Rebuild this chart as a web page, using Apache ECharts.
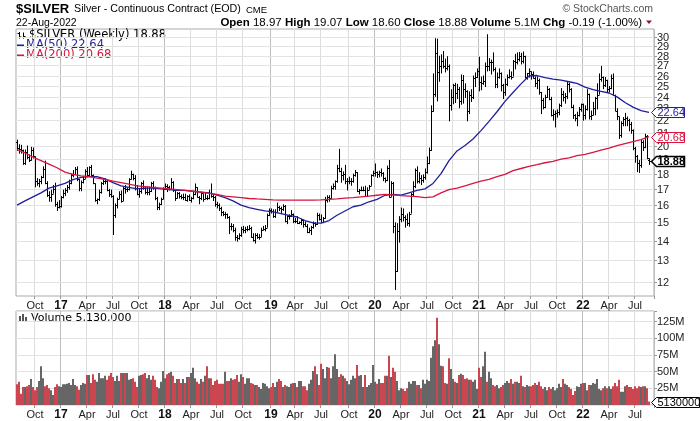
<!DOCTYPE html>
<html>
<head>
<meta charset="utf-8">
<title>$SILVER weekly</title>
<script src="https://cdn.jsdelivr.net/npm/echarts@6/dist/echarts.min.js"></script>
<style>
  html, body { margin: 0; padding: 0; background: #fff; }
  #chart { width: 700px; height: 421px; }
</style>
</head>
<body>
<div id="chart"></div>
<script>
// weekly bars, first bar = week of 1-Aug-2016, last bar = week of 22-Aug-2022
var opens = [
  // 2016
  20.30,19.80,19.75,19.65,18.70,19.50,19.15,18.95,19.70,19.20,17.50,17.40,17.50,17.75,18.30,17.40,16.60,16.50,16.70,17.00,16.05,15.90,
  // 2017
  15.95,16.50,16.75,16.95,17.15, 17.40,17.90,17.95,18.30, 17.65,17.05,17.45,17.65, 18.20,17.90,18.45,17.90, 17.35,16.30,16.35,16.80,17.35,
  17.50,17.50,16.90,16.65, 16.55,15.40,16.00,16.35,16.70, 16.25,17.05,17.00,17.00, 17.65,18.00,17.70,17.05, 16.65,16.85,17.40,17.05,16.80,
  16.80,16.85,17.35,17.15, 16.40,15.90,16.05,16.35,
  // 2018
  17.00,17.20,17.10,17.00,17.45, 16.90,16.45,16.75,16.55, 16.50,16.50,16.30,16.55, 16.30,16.40,16.65,17.15,16.50, 16.40,16.75,16.35,16.45,
  16.40,16.75,16.55,16.50, 16.05,16.00,15.80,15.60,15.45, 15.45,15.30,14.80,14.80, 14.60,14.20,14.15,14.30, 14.65,14.60,14.65,14.65,14.70,
  14.20,14.05,14.30,14.20, 14.20,14.60,14.65,14.70,15.40,
  // 2019
  15.70,15.65,15.35,15.60, 15.90,15.80,15.75,15.95, 15.10,15.35,15.35,15.45, 15.10,15.10,14.95,15.00,15.15, 14.90,14.80,14.45,14.55,
  14.75,14.95,14.90,15.40, 15.20,15.00,15.25,16.30,16.50, 16.45,17.05,17.20,17.50, 18.40,18.20,17.90,18.00,17.50, 17.50,17.50,17.50,17.90,
  18.10,16.85,16.95,16.95, 16.95,16.55,16.95,17.20,17.90,
  // 2020
  18.05,18.10,18.00,18.10, 18.05,17.70,17.55,18.40, 16.50,17.35,14.80,12.50,14.50, 15.20,15.50,15.30,15.20, 14.95,15.50,16.65,17.20,
  18.25,17.50,17.70,17.60,17.75, 18.10,18.75,19.70,22.75, 24.30,28.30,26.30,26.90,27.50, 26.90,26.75,26.90,23.25, 24.00,25.10,24.35,24.70,
  23.60,25.60,24.75,24.50,22.75, 24.20,24.00,25.75,25.85,
  // 2021
  26.40,25.40,25.30,25.45, 26.95,26.90,27.30,27.30, 26.65,25.20,25.90,26.20,25.10, 24.40,25.20,25.90,26.00, 25.90,27.45,27.30,27.65,27.95,
  27.50,28.00,25.90,26.20, 26.45,26.10,25.80,25.25, 25.55,24.40,23.75,23.10,24.00, 24.70,23.80,22.40,22.50, 22.60,22.70,23.25,24.30,
  24.00,24.10,25.20,24.70,23.10, 22.40,22.20,22.40,22.90,
  // 2022
  23.35,22.40,22.95,24.30,22.35, 22.45,23.00,23.90,24.20, 25.70,25.90,25.10,25.60, 24.70,24.80,25.80,24.20, 22.80,22.30,20.80,21.75,22.10,
  22.20,22.00,21.70,21.20, 19.80,19.20,18.70,18.60, 20.30,19.90,20.75,18.97
];
var highs = [
  20.45,20.10,20.05,19.70,19.70,20.00,19.35,19.90,19.85,19.20,17.70,17.65,17.85,18.50,18.90,17.50,16.85,16.95,17.25,17.40,16.20,16.30,
  16.55,16.95,17.05,17.25,17.60, 18.00,18.25,18.45,18.50, 17.65,17.55,17.85,18.30, 18.45,18.50,18.60,17.95, 17.35,16.40,16.95,17.45,17.65,
  17.70,17.55,17.00,16.95, 16.60,16.10,16.45,16.85,16.90, 17.15,17.25,17.10,17.70, 18.20,18.00,17.90,17.25, 17.00,17.45,17.55,17.15,17.15,
  17.15,17.45,17.50,17.15, 16.50,16.15,16.45,17.10,
  17.35,17.30,17.20,17.70,17.50, 16.95,16.80,16.80,16.65, 16.70,16.70,16.60,16.65, 16.50,16.85,17.35,17.10,16.55, 16.80,16.70,16.75,16.60,
  16.95,17.35,16.65,16.55, 16.20,16.10,15.90,15.65,15.60, 15.50,15.35,14.95,14.90, 14.70,14.30,14.40,14.75, 14.80,14.75,14.80,14.85,14.75,
  14.40,14.40,14.40,14.35, 14.70,14.80,14.85,15.50,15.80,
  15.80,15.75,15.75,16.15, 15.95,15.90,16.05,16.00, 15.40,15.45,15.70,15.50, 15.25,15.35,15.05,15.20,15.15, 15.05,14.90,14.70,14.80,
  15.05,15.00,15.55,15.50, 15.45,15.30,16.50,16.60,16.60, 17.20,17.35,17.55,18.60, 19.75,18.40,18.15,18.60,17.70, 17.80,17.70,18.00,18.25,
  18.10,17.00,17.15,17.15, 17.20,17.10,17.25,17.95,18.20,
  18.70,18.15,18.20,18.35, 18.10,17.75,18.55,18.95, 17.50,17.45,15.00,14.95,15.35, 15.85,15.80,15.40,15.50, 15.60,16.75,17.50,18.35,
  18.50,18.10,17.90,17.95,18.35, 19.20,19.85,23.25,26.20, 29.90,29.85,28.00,28.15,28.50, 27.70,27.95,27.10,24.70, 25.20,25.30,25.20,24.90,
  26.10,26.05,25.25,24.60,24.50, 24.70,26.00,26.30,26.70,
  27.90,25.90,26.00,27.30, 30.35,27.75,27.60,28.35, 26.80,26.30,26.70,26.30,25.20, 25.70,26.10,26.60,26.40, 27.55,28.20,28.35,28.40,28.30,
  28.45,28.00,26.25,26.70, 26.40,26.40,25.90,25.90, 25.70,24.45,23.90,24.20,25.00, 24.80,24.00,22.90,22.80, 22.90,23.40,24.80,24.55,
  24.35,25.45,25.30,24.80,23.30, 22.50,22.70,23.10,23.40,
  23.40,23.25,24.70,24.30,22.80, 23.55,24.00,25.25,26.20, 26.95,25.90,25.85,25.60, 25.00,26.10,26.20,24.20, 23.00,22.30,21.90,22.25,22.60,
  22.30,22.10,21.85,21.25, 19.90,19.30,18.95,20.45, 20.40,20.90,20.80,19.07
];
var lows = [
  19.60,19.40,19.40,18.60,18.60,19.00,18.80,18.90,19.05,17.10,17.20,17.10,17.30,17.70,17.30,16.50,16.20,16.20,16.70,15.90,15.65,15.80,
  15.85,16.40,16.55,16.75,16.95, 17.30,17.75,17.90,17.50, 16.85,16.85,17.35,17.65, 17.75,17.85,17.85,17.30, 16.20,16.05,16.25,16.70,17.25,
  17.30,16.85,16.50,16.45, 14.30,15.25,15.80,16.35,16.15, 16.25,16.70,16.80,16.90, 17.60,17.55,16.90,16.60, 16.45,16.70,16.95,16.65,16.60,
  16.60,16.80,16.95,16.30, 15.70,15.70,16.00,16.35,
  16.95,16.80,16.90,16.95,16.80, 16.25,16.40,16.40,16.35, 16.30,16.25,16.20,16.25, 16.15,16.35,16.60,16.45,16.05, 16.30,16.20,16.35,16.30,
  16.35,16.45,16.25,15.90, 15.80,15.65,15.35,15.35,15.20, 15.20,14.35,14.55,14.45, 14.00,13.95,14.05,14.20, 14.40,14.40,14.50,14.55,14.15,
  13.95,13.85,14.10,14.05, 14.20,14.55,14.50,14.70,15.35,
  15.50,15.25,15.25,15.55, 15.65,15.50,15.65,15.00, 14.90,15.15,15.30,14.95, 14.95,14.90,14.90,14.85,14.70, 14.75,14.40,14.40,14.30,
  14.65,14.75,14.85,15.10, 14.95,14.95,15.20,16.15,16.20, 16.40,16.95,16.95,17.40, 18.10,17.40,17.55,17.30,16.90, 17.30,17.20,17.40,17.80,
  16.80,16.65,16.85,16.85, 16.50,16.50,16.95,17.20,17.80,
  17.80,17.70,17.75,17.80, 17.50,17.40,17.50,16.45, 16.50,14.40,11.64,12.45,13.90, 15.00,15.05,14.70,14.80, 14.75,15.50,16.50,17.05,
  17.35,17.35,17.25,17.40,17.60, 18.00,18.65,19.60,22.70, 24.00,23.60,25.40,26.20,26.70, 26.30,26.50,21.90,22.80, 23.35,23.45,23.80,23.00,
  23.30,23.40,23.90,21.90,22.50, 23.55,23.80,24.90,25.75,
  24.50,24.60,25.10,24.90, 26.40,26.45,26.10,26.40, 24.80,24.80,25.70,24.50,23.80, 24.10,25.00,25.70,25.60, 25.90,26.60,27.10,27.40,27.10,
  27.20,25.70,25.60,25.80, 25.60,25.70,24.90,24.70, 24.20,22.50,22.90,23.00,23.90, 23.70,22.30,21.95,21.40, 22.20,22.40,23.10,23.60,
  23.40,23.80,24.40,23.00,22.10, 21.90,21.50,22.30,22.70,
  21.95,22.05,22.80,22.05,22.00, 22.40,22.40,22.90,24.20, 25.40,24.70,24.90,24.40, 24.40,24.70,24.10,22.75, 22.00,20.50,20.60,21.50,21.50,
  21.50,21.10,20.90,19.65, 18.75,18.10,18.05,18.40, 19.60,19.80,19.00,18.60
];
var closes = [
  19.80,19.75,19.65,18.70,19.50,19.15,18.95,19.70,19.20,17.50,17.40,17.50,17.75,18.30,17.40,16.60,16.50,16.70,17.00,16.05,15.90,15.95,
  16.50,16.75,16.95,17.15,17.40, 17.90,17.95,18.30,17.65, 17.05,17.45,17.65,18.20, 17.90,18.45,17.90,17.35, 16.30,16.35,16.80,17.35,17.50,
  17.50,16.90,16.65,16.55, 15.40,16.00,16.35,16.70,16.25, 17.05,17.00,17.00,17.65, 18.00,17.70,17.05,16.65, 16.85,17.40,17.05,16.80,16.80,
  16.85,17.35,17.15,16.40, 15.90,16.05,16.35,17.00,
  17.20,17.10,17.00,17.45,16.90, 16.45,16.75,16.55,16.50, 16.50,16.30,16.55,16.30, 16.40,16.65,17.15,16.50,16.40, 16.75,16.35,16.45,16.40,
  16.75,16.55,16.50,16.05, 16.00,15.80,15.60,15.45,15.45, 15.30,14.80,14.80,14.60, 14.20,14.15,14.30,14.65, 14.60,14.65,14.65,14.70,14.20,
  14.05,14.30,14.20,14.20, 14.60,14.65,14.70,15.40,15.70,
  15.65,15.35,15.60,15.90, 15.80,15.75,15.95,15.10, 15.35,15.35,15.45,15.10, 15.10,14.95,15.00,15.15,14.90, 14.80,14.45,14.55,14.75,
  14.95,14.90,15.40,15.20, 15.00,15.25,16.30,16.50,16.45, 17.05,17.20,17.50,18.40, 18.20,17.90,18.00,17.50,17.50, 17.50,17.50,17.90,18.10,
  16.85,16.95,16.95,16.95, 16.55,16.95,17.20,17.90,18.05,
  18.10,18.00,18.10,18.05, 17.70,17.55,18.40,16.50, 17.35,14.80,12.50,14.50,15.20, 15.50,15.30,15.20,14.95, 15.50,16.65,17.20,18.25,
  17.50,17.70,17.60,17.75,18.10, 18.75,19.70,22.75,24.30, 28.30,26.30,26.90,27.50,26.90, 26.75,26.90,23.25,24.00, 25.10,24.35,24.70,23.60,
  25.60,24.75,24.50,22.75,24.20, 24.00,25.75,25.85,26.40,
  25.40,25.30,25.45,26.95, 26.90,27.30,27.30,26.65, 25.20,25.90,26.20,25.10,24.40, 25.20,25.90,26.00,25.90, 27.45,27.30,27.65,27.95,27.50,
  28.00,25.90,26.20,26.45, 26.10,25.80,25.25,25.55, 24.40,23.75,23.10,24.00,24.70, 23.80,22.40,22.50,22.60, 22.70,23.25,24.30,24.00,
  24.10,25.20,24.70,23.10,22.40, 22.20,22.40,22.90,23.35,
  22.40,22.95,24.30,22.35,22.45, 23.00,23.90,24.20,25.70, 25.90,25.10,25.60,24.70, 24.80,25.80,24.20,22.80, 22.30,20.80,21.75,22.10,22.20,
  22.00,21.70,21.20,19.80, 19.20,18.70,18.60,20.30, 19.90,20.75,19.07,18.88
];
// weekly volume, millions of contracts
var volumes = [
  31,35,17,27,27,28,30,39,27,22, 27,36,58,40,28,30,25,22,15,27,
  31,28,27,31,31,32,33,30,39,30, 28,23,30,33,32,45,45,33,46,38,
  35,48,40,40,44,38,44,48,42,36, 44,36,48,48,48,48,38,39,40,35,
  27,44,45,46,48,40,45,38,44,38, 27,25,35,51,40,46,48,50,44,33,
  39,39,33,39,33,42,42,48,56,40, 35,32,39,35,44,58,40,40,30,36,
  38,32,32,32,50,36,36,40,38,39, 45,35,46,42,32,40,40,33,32,30,
  30,27,24,33,32,28,25,27,33,27, 35,39,36,27,30,28,27,32,33,33,
  27,36,36,28,28,22,32,38,51,58, 46,30,62,54,40,57,56,40,58,76,
  54,42,46,44,40,36,31,38,44,40, 60,44,45,27,45,27,30,33,60,35,
  32,39,33,33,44,44,74,42,56,50, 36,22,25,24,21,25,35,32,36,36,
  30,30,25,38,32,38,36,71,88,97, 131,91,59,58,33,32,70,54,39,35,
  33,45,47,45,39,40,38,38,35,38, 24,56,42,58,80,35,50,40,30,28,
  30,25,27,30,33,36,33,39,32,35, 35,33,44,28,27,30,28,28,30,33,
  30,35,28,24,27,22,27,24,27,22, 25,32,27,39,32,30,27,24,15,21,
  28,27,32,33,33,22,30,30,33,32, 39,24,22,25,28,25,28,24,28,33,
  28,38,20,20,28,30,27,27,24,28, 25,28,27,28,28,25,5.13
];
var MA_STEP = 4;
var ma50 = [
  16.0,16.25,16.5,16.75,17.05,17.2,17.35,17.6,17.75,17.8,
  17.8,17.65,17.4,17.2,17.1,17.0,17.05,17.05,17.0,16.95,
  16.9,16.9,16.85,16.8,16.75,16.6,16.45,16.25,16.0,15.85,
  15.75,15.65,15.6,15.5,15.4,15.3,15.1,14.97,14.95,15.1,
  15.4,15.65,15.9,16.0,16.2,16.35,16.6,16.65,16.6,16.75,
  16.9,17.0,17.35,18.0,18.9,19.6,20.0,20.5,21.15,21.9,
  22.7,23.6,24.4,25.2,25.95,26.0,25.8,25.65,25.55,25.4,
  25.25,24.9,24.65,24.5,24.35,24.0,23.5,23.1,22.8,22.64
];
var ma200 = [
  19.7,19.45,19.15,18.9,18.65,18.4,18.1,17.95,17.85,17.8,
  17.7,17.62,17.5,17.4,17.3,17.2,17.15,17.1,17.05,17.0,
  16.95,16.9,16.85,16.8,16.72,16.65,16.55,16.5,16.45,16.4,
  16.37,16.35,16.32,16.3,16.3,16.3,16.3,16.3,16.32,16.35,
  16.38,16.42,16.45,16.5,16.55,16.6,16.65,16.62,16.58,16.55,
  16.52,16.45,16.5,16.75,16.95,17.05,17.2,17.35,17.5,17.62,
  17.8,17.95,18.2,18.35,18.5,18.62,18.75,18.85,19.0,19.1,
  19.25,19.35,19.5,19.65,19.8,20.0,20.15,20.3,20.45,20.68
];
var priceTicks = [12,13,14,15,16,17,18,19,20,21,22,23,24,25,26,27,28,29,30];
var monthNames = ['Jan','Feb','Mar','Apr','May','Jun','Jul','Aug','Sep','Oct','Nov','Dec'];

var FONT = '"Liberation Sans", Arial, sans-serif';
var LEG_FONT = '"DejaVu Sans", Verdana, sans-serif';
var BLUE = '#1f1f9a';
var RED = '#d8153f';
var VOL_UP = '#666666';
var VOL_DOWN = '#cc4651';

// week categories (plus two empty weeks of right margin)
var FIRST_WEEK = Date.UTC(2016, 7, 1);
var WEEK_MS = 7 * 24 * 3600 * 1000;
var weeks = [];
for (var i = 0; i < closes.length + 2; i++) {
  weeks.push(new Date(FIRST_WEEK + i * WEEK_MS).toISOString().slice(0, 10));
}
function monthOf(i) { return new Date(weeks[i]).getUTCMonth(); }
function quarterStart(i) {
  if (i === 0) return false;
  var m = monthOf(i);
  return m % 3 === 0 && monthOf(i - 1) !== m;
}
function yearStart(i) { return i > 0 && monthOf(i) === 0 && monthOf(i - 1) === 11; }
function fmtWeek(value) {
  var d = new Date(value);
  if (d.getUTCMonth() === 0) return '{y|' + String(d.getUTCFullYear()).slice(2) + '}';
  return monthNames[d.getUTCMonth()];
}

var ohlcData = closes.map(function (c, i) { return [i, opens[i], highs[i], lows[i], c]; });
function maSeriesData(list) {
  var out = closes.map(function () { return null; });
  list.forEach(function (v, k) { out[k * MA_STEP] = v; });
  return out;
}
var volData = volumes.map(function (v, i) {
  var prev = i ? closes[i - 1] : opens[0];
  return { value: v, itemStyle: { color: closes[i] < prev ? VOL_DOWN : VOL_UP } };
});

function renderOhlc(params, api) {
  var i = api.value(0);
  var top = api.coord([i, api.value(2)]);
  var x = Math.round(top[0]) + 0.5;
  var yL = api.coord([i, api.value(3)])[1];
  var yO = Math.round(api.coord([i, api.value(1)])[1]) + 0.5;
  var yC = Math.round(api.coord([i, api.value(4)])[1]) + 0.5;
  return {
    type: 'group',
    children: [
      { type: 'line', shape: { x1: x, y1: top[1], x2: x, y2: yL }, style: { stroke: '#000', lineWidth: 1 } },
      { type: 'line', shape: { x1: x - 1.5, y1: yO, x2: x, y2: yO }, style: { stroke: '#000', lineWidth: 1 } },
      { type: 'line', shape: { x1: x, y1: yC, x2: x + 1.5, y2: yC }, style: { stroke: '#000', lineWidth: 1 } }
    ]
  };
}

// horizontal price grid + right-hand labels (log axis, one line per dollar)
function renderPriceGrid(params, api) {
  var cs = params.coordSys;
  var v = api.value(1);
  var y = Math.round(api.coord([0, v])[1]) + 0.5;
  var right = cs.x + cs.width;
  return {
    type: 'group',
    children: [
      { type: 'line', shape: { x1: cs.x, y1: y, x2: right, y2: y }, style: { stroke: '#e3e3e3', lineWidth: 1 } },
      { type: 'line', shape: { x1: right, y1: y, x2: right + 3, y2: y }, style: { stroke: '#999', lineWidth: 1 } },
      { type: 'text', x: right + 3, y: y, style: { text: String(v), font: '11px ' + FONT, fill: '#222',
        align: 'left', verticalAlign: 'middle', textAlign: 'left', textVerticalAlign: 'middle' } }
    ]
  };
}

// value tag at the right edge
function tagSeries(xIdx, yIdx, value, text, color, bold, width) {
  return {
    type: 'custom', xAxisIndex: xIdx, yAxisIndex: yIdx, z: 10, silent: true,
    data: [[closes.length - 1, value]],
    renderItem: function (params, api) {
      var cs = params.coordSys;
      var y = Math.round(api.coord([api.value(0), api.value(1)])[1]) + 0.5;
      var x0 = cs.x + cs.width - 2.5;
      var h = 5;
      return {
        type: 'group',
        children: [
          { type: 'polygon', shape: { points: [[x0, y], [x0 + 5, y - h], [x0 + width, y - h], [x0 + width, y + h], [x0 + 5, y + h]] },
            style: { fill: '#fff', stroke: color, lineWidth: bold ? 1.5 : 1 } },
          { type: 'text', x: x0 + 6, y: y + 0.5, style: { text: text, fill: color, font: (bold ? 'bold ' : '') + '11px ' + FONT,
            align: 'left', verticalAlign: 'middle', textAlign: 'left', textVerticalAlign: 'middle' } }
        ]
      };
    }
  };
}

function txt(x, y, text, font, fill, align) {
  return { type: 'text', x: x, y: y, silent: true,
    style: { text: text, font: font, fill: fill, align: align || 'left', verticalAlign: 'middle',
      textAlign: align || 'left', textVerticalAlign: 'middle' } };
}
function seg(x1, y1, x2, y2, color, w) {
  return { type: 'line', silent: true, shape: { x1: x1, y1: y1, x2: x2, y2: y2 }, style: { stroke: color, lineWidth: w || 1 } };
}

function weekAxis(gridIndex, withLabels) {
  return {
    type: 'category', gridIndex: gridIndex, data: weeks, boundaryGap: true,
    axisLine: { show: false },
    axisTick: { show: true, interval: function (i) { return quarterStart(i); }, length: 3, lineStyle: { color: '#999' } },
    axisLabel: {
      show: withLabels, interval: function (i) { return quarterStart(i); }, formatter: fmtWeek,
      margin: 4, fontFamily: FONT, fontSize: 11, color: '#222',
      rich: { y: { fontFamily: FONT, fontSize: 12, fontWeight: 'bold', color: '#111' } }
    },
    splitLine: { show: true, interval: function (i) { return quarterStart(i) && !yearStart(i); }, lineStyle: { color: '#dedede' } }
  };
}
function yearAxis(gridIndex) {
  return {
    type: 'category', gridIndex: gridIndex, data: weeks, boundaryGap: true, position: 'top',
    axisLine: { show: false }, axisTick: { show: false }, axisLabel: { show: false },
    splitLine: { show: true, interval: function (i) { return yearStart(i); }, lineStyle: { color: '#bdbdbd' } }
  };
}

var chart = echarts.init(document.getElementById('chart'), null, { renderer: 'canvas' });
chart.setOption({
  animation: false,
  backgroundColor: '#fff',
  grid: [
    { left: 16, top: 29, width: 638, height: 267, show: true, borderColor: '#aaaaaa', borderWidth: 1, backgroundColor: 'transparent' },
    { left: 16, top: 311, width: 638, height: 94, show: true, borderColor: '#aaaaaa', borderWidth: 1, backgroundColor: 'transparent' }
  ],
  xAxis: [weekAxis(0, true), yearAxis(0), weekAxis(1, true), yearAxis(1)],
  yAxis: [
    { type: 'log', gridIndex: 0, min: 11.38, max: 30.95, position: 'right',
      axisLine: { show: false }, axisTick: { show: false }, axisLabel: { show: false }, splitLine: { show: false } },
    { type: 'value', gridIndex: 1, min: 0, max: 141, interval: 25, position: 'right',
      axisLine: { show: false },
      axisTick: { show: true, length: 3, lineStyle: { color: '#999' } },
      axisLabel: { margin: 3, fontFamily: FONT, fontSize: 11, color: '#222',
        formatter: function (v) { return v > 0 && v % 25 === 0 ? v + 'M' : ''; } },
      splitLine: { show: true, lineStyle: { color: '#e3e3e3' } } }
  ],
  series: [
    { type: 'custom', name: 'grid', xAxisIndex: 0, yAxisIndex: 0, z: 1, silent: true,
      data: priceTicks.map(function (v) { return [0, v]; }), renderItem: renderPriceGrid },
    { type: 'custom', name: '$SILVER', xAxisIndex: 0, yAxisIndex: 0, z: 3, silent: true,
      data: ohlcData, encode: { x: 0, y: [1, 2, 3, 4] }, renderItem: renderOhlc },
    { type: 'line', name: 'MA(50)', xAxisIndex: 0, yAxisIndex: 0, z: 4, silent: true,
      data: maSeriesData(ma50), connectNulls: true, showSymbol: false, lineStyle: { color: BLUE, width: 1.3 } },
    { type: 'line', name: 'MA(200)', xAxisIndex: 0, yAxisIndex: 0, z: 4, silent: true,
      data: maSeriesData(ma200), connectNulls: true, showSymbol: false, lineStyle: { color: RED, width: 1.3 } },
    { type: 'bar', name: 'Volume', xAxisIndex: 2, yAxisIndex: 1, barCategoryGap: '0%', silent: true, data: volData },
    tagSeries(0, 0, ma50[ma50.length - 1], ma50[ma50.length - 1].toFixed(2), BLUE, false, 33),
    tagSeries(0, 0, ma200[ma200.length - 1], ma200[ma200.length - 1].toFixed(2), RED, false, 33),
    tagSeries(0, 0, closes[closes.length - 1], closes[closes.length - 1].toFixed(2), '#000', true, 33),
    tagSeries(2, 1, volumes[volumes.length - 1], String(Math.round(volumes[volumes.length - 1] * 1e6)), '#000', false, 48)
  ],
  graphic: [
    txt(16, 9.5, '$SILVER', 'bold 13px ' + FONT, '#000'),
    txt(74, 9.5, 'Silver - Continuous Contract (EOD)', '10.7px ' + FONT, '#000'),
    txt(246, 10, 'CME', '9.5px ' + FONT, '#000'),
    txt(16, 23, '22-Aug-2022', '10.5px ' + FONT, '#000'),
    txt(653, 9, '\u00a9 StockCharts.com', '10.5px ' + FONT, '#555', 'right'),
    { type: 'text', x: 642, y: 22.5, silent: true,
      style: {
        text: '{b|Open} 18.97 {b|High} 19.07 {b|Low} 18.60 {b|Close} 18.88 {b|Volume} 5.1M {b|Chg} -0.19 (-1.00%)',
        font: '11.5px ' + FONT, fill: '#000', align: 'right', verticalAlign: 'middle', textAlign: 'right', textVerticalAlign: 'middle',
        rich: { b: { font: 'bold 11.5px ' + FONT, fill: '#000' } }
      } },
    { type: 'polygon', silent: true, shape: { points: [[646, 20.5], [652, 20.5], [649, 24]] }, style: { fill: '#8b1538' } },
    // price panel legend
    seg(19.5, 32, 19.5, 38.5, '#000'), seg(17.5, 33.5, 19.5, 33.5, '#000'), seg(19.5, 37, 21.5, 37, '#000'),
    seg(23.5, 32.5, 23.5, 38.5, '#000'), seg(23.5, 36.5, 25.5, 36.5, '#000'),
    txt(29, 35.5, '$SILVER (Weekly) 18.88', '11.5px ' + LEG_FONT, '#000'),
    seg(17, 45.5, 24, 45.5, BLUE, 2),
    txt(26, 45.5, 'MA(50) 22.64', '11.5px ' + LEG_FONT, BLUE),
    seg(17, 55.5, 24, 55.5, RED, 2),
    txt(26, 55.5, 'MA(200) 20.68', '11.5px ' + LEG_FONT, RED),
    // volume panel legend
    { type: 'rect', silent: true, shape: { x: 19, y: 316, width: 2, height: 6 }, style: { fill: '#555' } },
    { type: 'rect', silent: true, shape: { x: 22, y: 314, width: 2, height: 8 }, style: { fill: '#555' } },
    { type: 'rect', silent: true, shape: { x: 25, y: 317, width: 2, height: 5 }, style: { fill: '#555' } },
    txt(31, 318.5, 'Volume 5,130,000', '11px ' + LEG_FONT, '#000')
  ]
});
</script>
</body>
</html>
